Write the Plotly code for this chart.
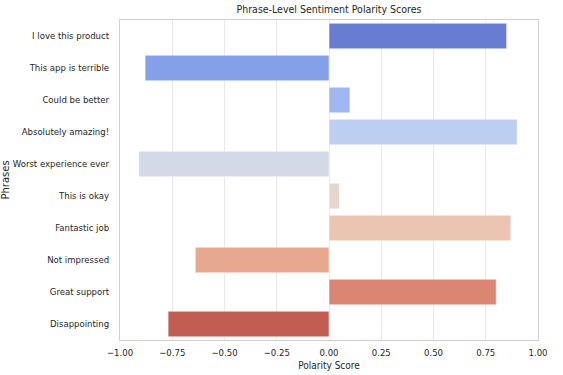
import plotly.graph_objects as go

phrases = ["I love this product", "This app is terrible", "Could be better",
           "Absolutely amazing!", "Worst experience ever", "This is okay",
           "Fantastic job", "Not impressed", "Great support", "Disappointing"]
scores = [0.85, -0.88, 0.10, 0.90, -0.91, 0.05, 0.87, -0.64, 0.80, -0.77]
colors = ["#687dd1", "#83a0e9", "#a0b8f1", "#bccef1", "#d3d9e6",
          "#e5d6ce", "#ecc5b2", "#e8a88f", "#da8672", "#c25d53"]
x_ticks = [-1.0, -0.75, -0.5, -0.25, 0.0, 0.25, 0.5, 0.75, 1.0]
x_tick_labels = ["−1.00", "−0.75", "−0.50", "−0.25", "0.00", "0.25", "0.50", "0.75", "1.00"]

FONT = "DejaVu Sans Condensed, Liberation Sans Narrow, DejaVu Sans"

fig = go.Figure(go.Bar(
    x=scores, y=phrases, orientation="h",
    marker=dict(color=colors, line=dict(color="rgba(255,255,255,0.55)", width=1)),
))

fig.update_layout(
    width=563, height=375,
    margin=dict(l=120, r=25, t=20, b=35),
    paper_bgcolor="white", plot_bgcolor="white",
    font=dict(family=FONT, size=9.5, color="#262626"),
    title=dict(text="Phrase-Level Sentiment Polarity Scores", x=0.5, xref="paper",
               xanchor="center", y=1, yref="container", yanchor="top",
               pad=dict(t=6), font=dict(size=10.5, color="#262626")),
    bargap=0.2,
    showlegend=False,
)
fig.update_xaxes(
    range=[-1.0, 1.0], tickvals=x_ticks, ticktext=x_tick_labels,
    showgrid=True, gridcolor="#e8e8e8", gridwidth=1, zeroline=False,
    showline=True, linecolor="#d0d0d0", linewidth=1, mirror=True,
    ticks="", ticklabelstandoff=4, automargin=False,
    title=dict(text="Polarity Score", standoff=4, font=dict(size=10)),
    tickfont=dict(size=9.5),
)
fig.update_yaxes(
    categoryorder="array", categoryarray=phrases, autorange="reversed",
    showgrid=False, zeroline=False,
    showline=True, linecolor="#d0d0d0", linewidth=1, mirror=True,
    ticks="", ticklabelstandoff=8, automargin=False,
    title=dict(text="Phrases", standoff=4,
               font=dict(size=10, family="DejaVu Sans")),
    tickfont=dict(size=9.5),
)

fig.write_html("out.html", config={"displayModeBar": False},
               post_script="document.body.style.margin='0px';")
